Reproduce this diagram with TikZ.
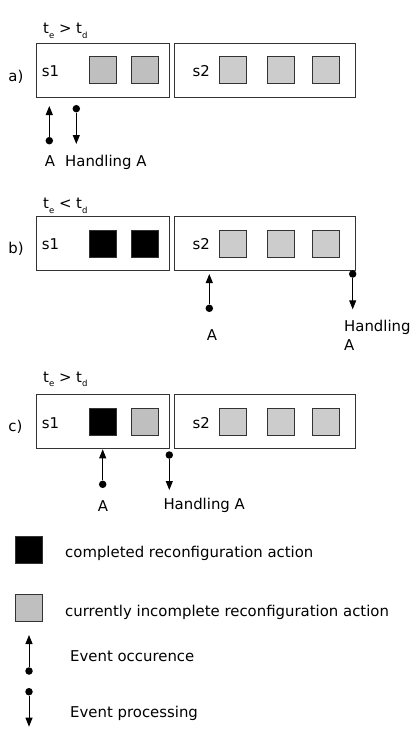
\documentclass[tikz,border=0pt]{standalone}
\usepackage{fontspec}
\setmainfont{DejaVu Sans}
\usetikzlibrary{arrows.meta,positioning}
\newcommand\tcond[1]{t\raisebox{-0.6ex}{\fontsize{8.5}{9}\selectfont e} #1 t\raisebox{-0.6ex}{\fontsize{8.5}{9}\selectfont d}}
\tikzset{
    stage/.style={draw=black!80, line width=0.9pt, minimum height=54pt, inner sep=0pt},
    action/.style={draw=black!80, line width=0.9pt, minimum size=27pt, inner sep=0pt},
    done/.style={action, fill=black},
    busy/.style={action, fill=black!25},
    idle/.style={action, fill=black!20},
    lbl/.style={inner sep=0pt, anchor=base west, font=\fontsize{14.9}{18.3}\selectfont},
    evt/.style={line width=0.9pt, -{Triangle[length=9pt,width=7pt]}},
    dot/.style={circle, fill=black, inner sep=0pt, minimum size=7.5pt}
}
\begin{document}
\begin{tikzpicture}[x=1pt, y=-1pt]
    \useasboundingbox (0,0) rectangle (415,731);
    % a)
    \node[stage, minimum width=133pt] (as1) at (103,70) {};
    \node[stage, minimum width=181pt] (as2) at (264.8,70) {};
    \node[busy] (aa1) at (102.8,70.3) {};
    \node[busy] (aa2) at (145.3,70.3) {};
    \foreach \x [count=\i] in {233.2, 281, 326}
        \node[idle] (ab\i) at (\x,70.3) {};
    \node[lbl] (atag) at (8.3,81.7) {a)};
    \node[lbl] (als1) at (41.7,76.7) {s1};
    \node[lbl] (als2) at (192.3,76.7) {s2};
    \node[lbl] (acond) at (43,33.3) {\tcond{>}};
    \node[dot] (aocc) at (49.3,140.7) {};
    \coordinate (aocctip) at (49.3,106);
    \node[dot] (aproc) at (76.3,108.7) {};
    \coordinate (aproctip) at (76.3,144);
    \draw[evt] (aocc) -- (aocctip);
    \draw[evt] (aproc) -- (aproctip);
    \node[lbl, anchor=base] (aA) at (50,166.7) {A};
    \node[lbl] (ahand) at (65,166.7) {Handling A};
    % b)
    \node[stage, minimum width=133pt] (bs1) at (103,243.3) {};
    \node[stage, minimum width=181pt] (bs2) at (264.8,243.3) {};
    \node[done] (ba1) at (102.8,243.5) {};
    \node[done] (ba2) at (145.3,243.5) {};
    \foreach \x [count=\i] in {233.2, 281, 326}
        \node[idle] (bb\i) at (\x,243.5) {};
    \node[lbl] (btag) at (8.3,253) {b)};
    \node[lbl] (bls1) at (41.7,249.3) {s1};
    \node[lbl] (bls2) at (192.3,249.3) {s2};
    \node[lbl] (bcond) at (43,208.3) {\tcond{<}};
    \node[dot] (bocc) at (209.3,308.3) {};
    \coordinate (bocctip) at (209.3,274);
    \node[dot] (bproc) at (352.7,274) {};
    \coordinate (bproctip) at (352.7,309.3);
    \draw[evt] (bocc) -- (bocctip);
    \draw[evt] (bproc) -- (bproctip);
    \node[lbl, anchor=base] (bA) at (212,340) {A};
    \node[lbl, align=left] (bhand) at (344,350) {Handling\\A};
    % c)
    \node[stage, minimum width=133pt] (cs1) at (103,421.7) {};
    \node[stage, minimum width=181pt] (cs2) at (264.8,421.7) {};
    \node[done] (ca1) at (102.8,421.7) {};
    \node[busy] (ca2) at (145.3,421.7) {};
    \foreach \x [count=\i] in {233.2, 281, 326}
        \node[idle] (cb\i) at (\x,421.7) {};
    \node[lbl] (ctag) at (8.3,431.7) {c)};
    \node[lbl] (cls1) at (41.7,428.3) {s1};
    \node[lbl] (cls2) at (192.3,428.3) {s2};
    \node[lbl] (ccond) at (43,382) {\tcond{>}};
    \node[dot] (cocc) at (102.7,484.3) {};
    \coordinate (cocctip) at (102.7,449.3);
    \node[dot] (cproc) at (169.3,455) {};
    \coordinate (cproctip) at (169.3,490);
    \draw[evt] (cocc) -- (cocctip);
    \draw[evt] (cproc) -- (cproctip);
    \node[lbl, anchor=base] (cA) at (103,511.7) {A};
    \node[lbl] (chand) at (163.3,509.3) {Handling A};
    % legend
    \node[done] (kdone) at (28.7,549.7) {};
    \node[lbl] (kdonetxt) at (65,557.7) {completed reconfiguration action};
    \node[busy] (kbusy) at (28.7,608.3) {};
    \node[lbl] (kbusytxt) at (65,616) {currently incomplete reconfiguration action};
    \node[dot] (kocc) at (29,671) {};
    \coordinate (kocctip) at (29,635);
    \draw[evt] (kocc) -- (kocctip);
    \node[lbl] (kocctxt) at (70,661.7) {Event occurence};
    \node[dot] (kproc) at (29,691.7) {};
    \coordinate (kproctip) at (29,726.7);
    \draw[evt] (kproc) -- (kproctip);
    \node[lbl] (kproctxt) at (70,717.7) {Event processing};
\end{tikzpicture}
\end{document}
